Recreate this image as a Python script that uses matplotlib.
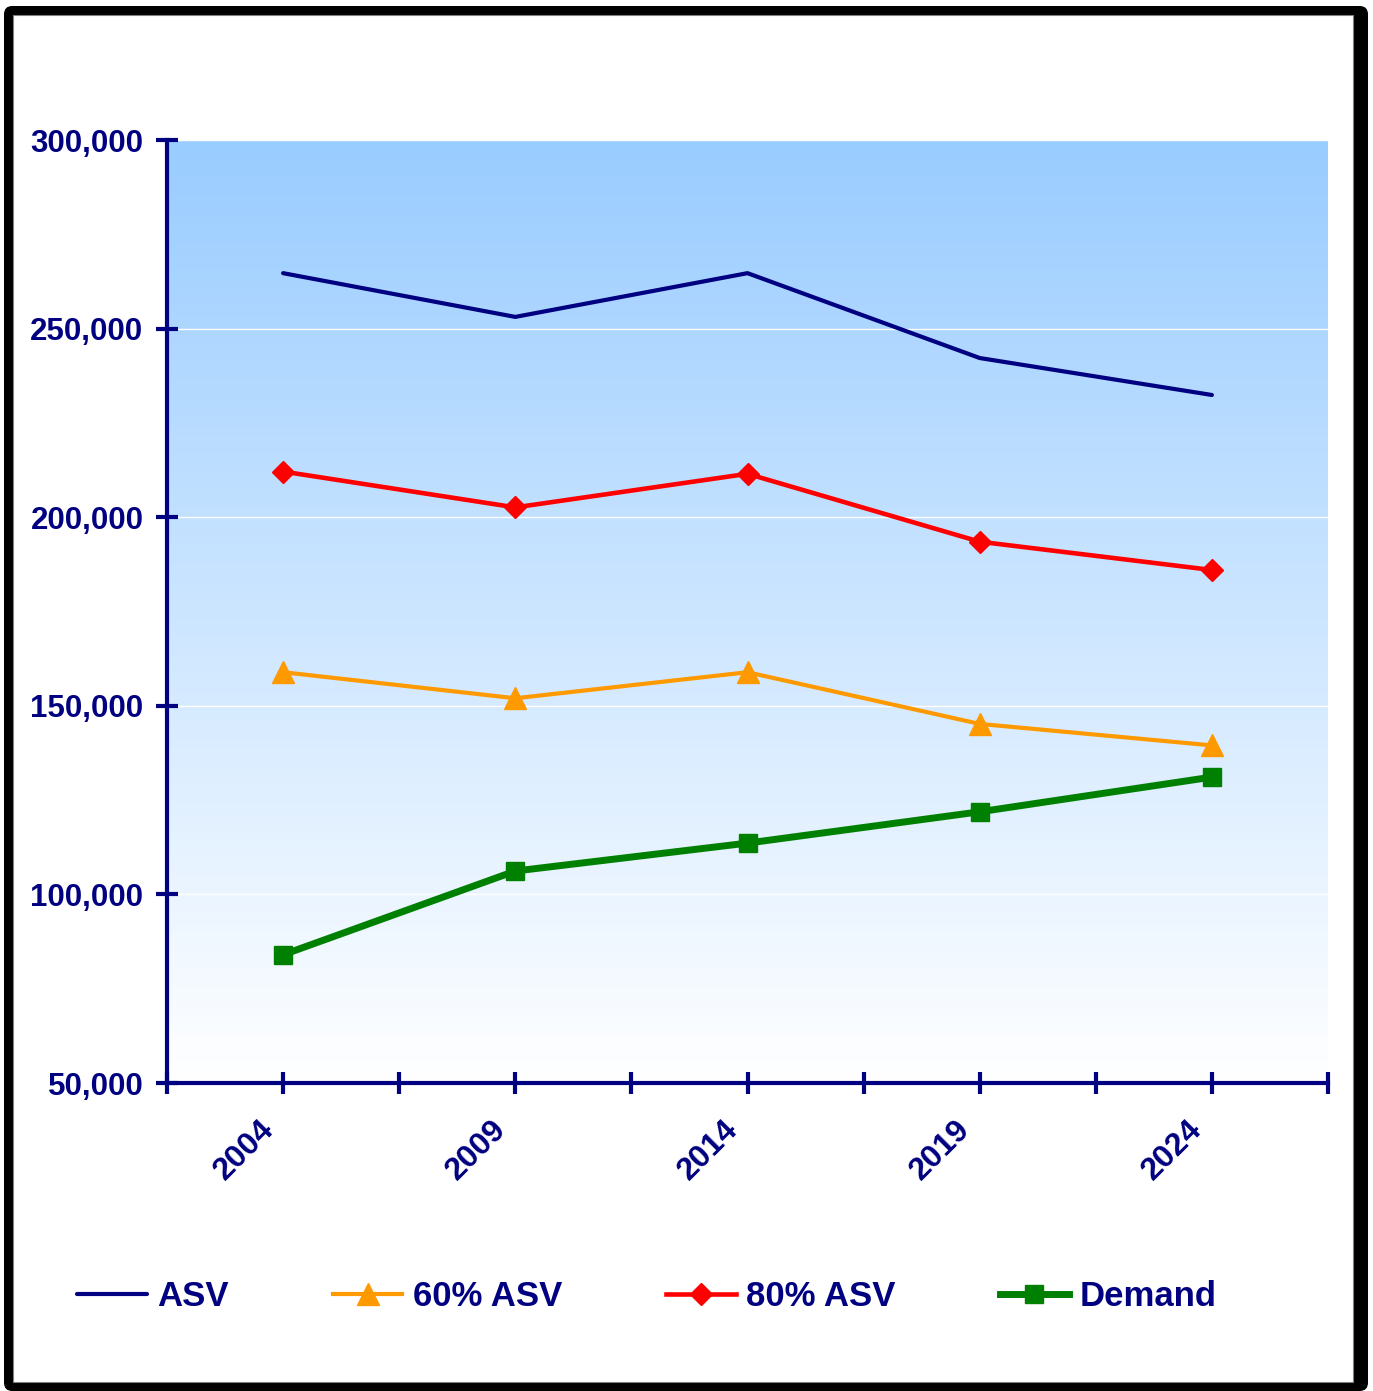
import numpy as np
import matplotlib
matplotlib.use("Agg")
import matplotlib.pyplot as plt
import matplotlib.transforms as mtransforms
from matplotlib.colors import LinearSegmentedColormap
from matplotlib.patches import FancyBboxPatch, Rectangle
from matplotlib.ticker import FuncFormatter, MultipleLocator

# chart data
years = ['2004', '2009', '2014', '2019', '2024']
asv = [264700, 253100, 264700, 242200, 232400]
asv_60 = [158900, 152000, 158900, 145200, 139500]
asv_80 = [212100, 202600, 211500, 193500, 186000]
demand = [84000, 106200, 113600, 121900, 131100]

navy = '#000080'
W, H = 1373, 1391
plt.rcParams['font.family'] = ['Liberation Sans', 'DejaVu Sans']
plt.rcParams['font.weight'] = 'bold'

fig = plt.figure(figsize=(W / 100, H / 100), dpi=100)

# outer frame with shadow (pixel coords -> figure fraction)
def px(x0, y0, x1, y1):
    return x0 / W, 1 - y1 / H, (x1 - x0) / W, (y1 - y0) / H

x, y, w, h = px(4, 6, 1368, 1391)
fig.patches.append(FancyBboxPatch((x, y), w, h, boxstyle='round,pad=0,rounding_size=0.006',
                                  transform=fig.transFigure, facecolor='black', edgecolor='none',
                                  zorder=-3))
x, y, w, h = px(13, 15, 1353, 1382)
fig.patches.append(Rectangle((x, y), w, h, transform=fig.transFigure, zorder=-2,
                             facecolor='white', edgecolor='#808080', linewidth=0.8))

ax = fig.add_axes([167 / W, 1 - 1083 / H, (1328 - 167) / W, (1083 - 140) / H])
ax.set_facecolor('none')

# gradient plot area
cmap = LinearSegmentedColormap.from_list('bg', ['#ffffff', '#99ccff'])
grad = np.linspace(0, 1, 256).reshape(-1, 1)
ax.imshow(grad, cmap=cmap, origin='lower', aspect='auto', extent=(0, 1, 0, 1),
          transform=ax.transAxes, zorder=0)

xs = np.arange(len(years))
ax.plot(xs, asv, color=navy, lw=3, label='ASV', zorder=3, solid_capstyle='round')
ax.plot(xs, asv_60, color='#ff9900', lw=3, marker='^', markersize=16, label='60% ASV', zorder=3)
ax.plot(xs, asv_80, color='#ff0000', lw=3.3, marker='D', markersize=11, label='80% ASV', zorder=3)
ax.plot(xs, demand, color='#008000', lw=5, marker='s', markersize=13, label='Demand', zorder=3)

ax.set_xlim(-0.5, len(years) - 0.5)
ax.set_ylim(50000, 300000)
ax.yaxis.set_major_locator(MultipleLocator(50000))
ax.yaxis.set_major_formatter(FuncFormatter(lambda v, p: f'{int(v):,}'))
ax.grid(axis='y', color='white', lw=1, zorder=1)
ax.set_axisbelow(True)

ax.set_xticks(xs)
ax.set_xticks(np.arange(-0.5, len(years), 1), minor=True)
ax.set_xticklabels(years, rotation=45, ha='right', va='center', rotation_mode='anchor')

for s in ['top', 'right']:
    ax.spines[s].set_visible(False)
for s in ['left', 'bottom']:
    ax.spines[s].set_color(navy)
    ax.spines[s].set_linewidth(3)

ax.tick_params(axis='both', which='both', direction='inout', color=navy, width=3, length=16)
ax.tick_params(axis='y', labelsize=22.5, labelcolor=navy, pad=9)
ax.tick_params(axis='x', labelsize=23, labelcolor=navy, pad=22)
shift = mtransforms.ScaledTranslation(-14 / 100, 0, fig.dpi_scale_trans)
for t in ax.get_xticklabels():
    t.set_fontweight('bold')
    t.set_transform(t.get_transform() + shift)
for t in ax.get_yticklabels():
    t.set_fontweight('bold')

fig.legend(loc='center', bbox_to_anchor=(647 / W, 1 - 1297 / H), ncol=4, frameon=False,
           labelcolor=navy, handlelength=2.0, handletextpad=0.3, columnspacing=3.0,
           prop={'weight': 'bold', 'size': 25})

fig.savefig('out.png', dpi=100)
